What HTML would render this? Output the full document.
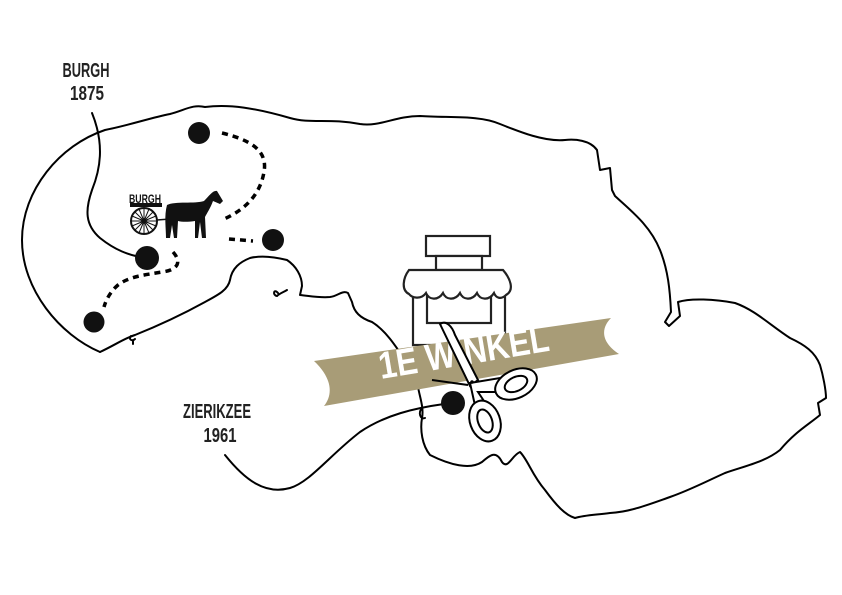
<!DOCTYPE html>
<html><head><meta charset="utf-8"><style>
html,body{margin:0;padding:0;background:#fff;width:842px;height:595px;overflow:hidden}
svg{display:block}
.lbl{font-family:"Liberation Sans Narrow","Liberation Sans",sans-serif;font-size:20px;font-weight:bold;fill:#222;}
</style></head><body>
<svg width="842" height="595" viewBox="0 0 842 595" xmlns="http://www.w3.org/2000/svg">
<g fill="none" stroke="#000" stroke-width="2" stroke-linejoin="round" stroke-linecap="round">
<path d="M100,352 C60,335 22,290 22,240 C22,190 60,145 105,130 C130,125 150,118 170,114 C185,110 193,104 205,107 C230,104 255,108 290,118 C310,124 330,118 360,124 C380,127 395,116 420,116 C450,118 480,115 500,124 C520,132 545,142 565,140 C575,139 590,140 597,150 L600,170 L610,168 L612,190 L615,196 C630,210 650,225 660,250 C668,270 670,290 671,312 L665,322 L669,326 L680,316 L678,302 C690,298 715,299 735,303 C755,310 770,325 790,338 C805,345 815,352 820,365 C823,375 826,390 826,398 L818,403 L820,415 C808,425 795,432 780,450 C765,462 745,466 725,473 C705,482 690,490 670,497 C650,504 630,512 610,513 C595,515 585,515 575,518"/>
<path d="M100,352 C115,345 125,338 135,335 C160,325 185,313 205,302 C218,295 228,290 230,280 C232,268 240,262 250,258 C262,255 275,257 287,260 C296,266 302,276 302,286 L300,295 C310,296 320,298 330,297 C338,296 342,290 348,293 L352,302 C354,312 360,318 372,322 C385,330 395,345 405,360 L412,372"/>
<path d="M278,293 C274,288 272,295 277,296 C280,293 284,292 287,290"/>
<path d="M131,336 C128,339 132,342 135,339 M133,340 L133,344"/>
<path d="M418,387 C420,398 424,408 422,418 C420,430 422,445 430,455 C450,465 470,470 482,462 C490,455 496,450 502,462 C508,470 512,455 520,452 C528,460 532,475 545,490 C556,505 565,515 575,518"/>
<path d="M225,455 C245,480 265,495 290,488 C310,482 330,455 360,432 C385,415 415,408 444,404"/>
<path d="M422,408 C418,412 420,420 425,418"/>
<path d="M92,113 C105,145 100,170 92,190 C85,210 85,225 100,238 C115,250 128,255 145,258"/>
<g stroke-width="3.5" stroke-dasharray="6,5" stroke-linecap="butt">
<path d="M222,133 C250,140 268,150 264,172 C260,195 245,210 222,220"/>
<path d="M229,239 L253,241"/>
<path d="M173,252 C182,262 178,270 162,272 C145,275 130,276 118,285 C110,292 106,300 104,307"/>
</g>
</g>
<g fill="#111">
<circle cx="199" cy="133" r="11"/>
<circle cx="273" cy="240" r="11"/>
<circle cx="147" cy="258" r="12"/>
<circle cx="94" cy="322" r="10.5"/>
<circle cx="453" cy="403" r="12"/>
</g>
<text x="129" y="203" font-family="Liberation Sans Narrow,Liberation Sans,sans-serif" font-size="12" font-weight="bold" fill="#111" textLength="32" lengthAdjust="spacingAndGlyphs">BURGH</text>
<rect x="130" y="203" width="32" height="4" fill="#111"/>
<circle cx="144" cy="221" r="13" fill="none" stroke="#111" stroke-width="2"/>
<g stroke="#111" stroke-width="1"><path d="M131,221h26M144,208v26M135,212l18,18M153,212l-18,18M139,209l10,24M149,209l-10,24M132,216l24,10M156,216l-24,10"/></g>
<path d="M157,220 L170,219" stroke="#111" stroke-width="1.5"/>
<path d="M167,205 C175,201 195,204 204,201 C209,196 213,190 217,191 L223,201 L220,204 L213,201 C210,209 207,213 205,217 L206,238 L202,238 L200,222 L198,238 L195,238 L195,221 C188,222 182,222 178,221 L177,238 L174,238 L172,225 L170,238 L166,238 C166,228 164,216 167,205 Z" fill="#111"/>
<g fill="#fff" stroke="#222" stroke-width="2.2">
<rect x="426" y="236" width="64" height="20"/>
<rect x="436" y="256" width="46" height="14"/>
<rect x="413" y="290" width="92" height="55"/>
<rect x="427" y="290" width="64" height="33"/>
<path d="M409,270 L503,270 C510,278 515,290 506,295 C501,300 496,298 494,293 C489,301 480,300 477,293 C472,301 463,300 460,293 C455,301 446,300 443,293 C438,301 429,300 426,293 C421,300 412,298 409,294 C401,290 403,278 409,270 Z"/>
</g>
<path d="M314,361 L611,318 C603,326 598,340 619,354 L324,406 C332,396 334,380 314,361 Z" fill="#a89c77"/>
<text x="0" y="0" transform="translate(381,379) rotate(-9.5)" font-family="Liberation Sans Narrow,Liberation Sans,sans-serif" font-size="38" font-weight="bold" fill="#fff" textLength="172" lengthAdjust="spacingAndGlyphs">1E WINKEL</text>
<g fill="#fff" stroke="#000" stroke-width="2">
<path d="M440,324 C446,320 452,326 455,335 L478,380 L470,386 Z"/>
<path d="M470,383 L500,378 L502,392 L478,392 L486,404 L476,410 Z"/>
<ellipse cx="516" cy="384" rx="22" ry="14" transform="rotate(-25 516 384)"/>
<ellipse cx="516" cy="384" rx="12" ry="7" transform="rotate(-25 516 384)"/>
<ellipse cx="485" cy="421" rx="15" ry="21" transform="rotate(-20 485 421)"/>
<ellipse cx="485" cy="421" rx="7" ry="12" transform="rotate(-20 485 421)"/>
<path d="M432,380 L468,385" fill="none"/>
</g>
<circle cx="472" cy="382" r="1.8" fill="#000"/>
<text class="lbl" x="86" y="77" text-anchor="middle" textLength="47" lengthAdjust="spacingAndGlyphs">BURGH</text>
<text class="lbl" x="87" y="100" text-anchor="middle" textLength="34" lengthAdjust="spacingAndGlyphs">1875</text>
<text class="lbl" x="217" y="418" text-anchor="middle" textLength="68" lengthAdjust="spacingAndGlyphs">ZIERIKZEE</text>
<text class="lbl" x="220" y="442" text-anchor="middle" textLength="33" lengthAdjust="spacingAndGlyphs">1961</text>
</svg>
</body></html>
